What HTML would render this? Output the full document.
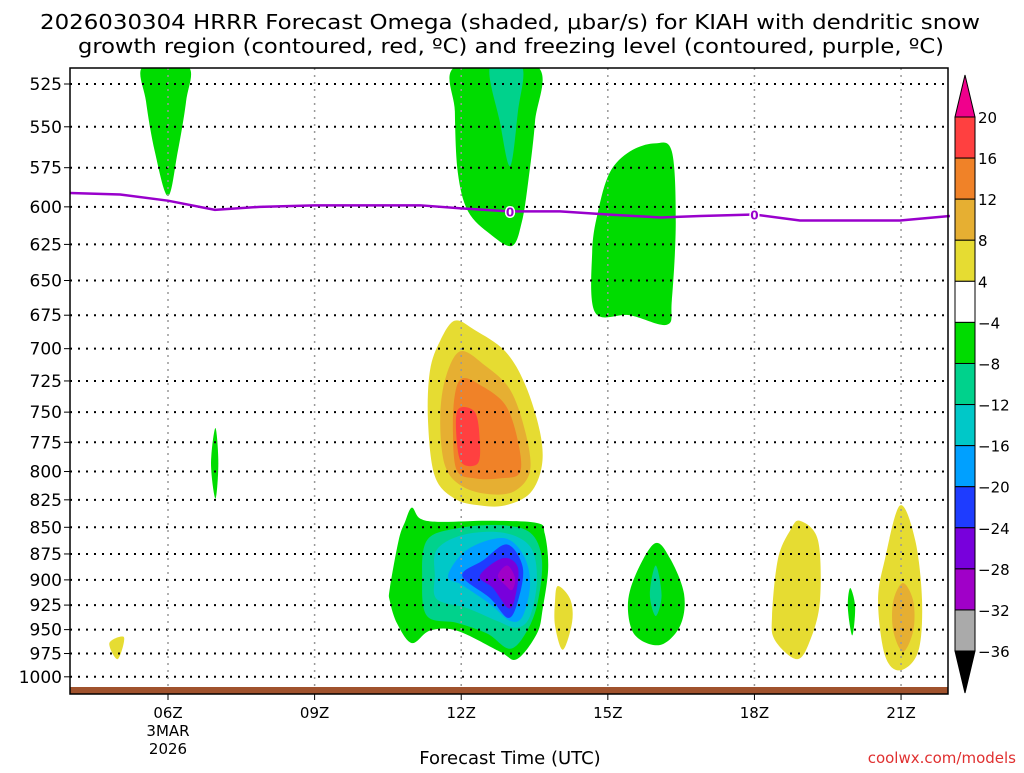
<!DOCTYPE html>
<html><head><meta charset="utf-8"><style>
body{margin:0;background:#fff;font-family:"Liberation Sans","DejaVu Sans",sans-serif}
svg text{font-family:"DejaVu Sans","Liberation Sans",sans-serif}
</style></head><body>
<svg id="c" width="1024" height="768" xmlns="http://www.w3.org/2000/svg">
<text x="40" y="29" font-size="20" textLength="940" lengthAdjust="spacingAndGlyphs">2026030304 HRRR Forecast Omega (shaded, μbar/s) for KIAH with dendritic snow</text>
<text x="78" y="53" font-size="20" textLength="866" lengthAdjust="spacingAndGlyphs">growth region (contoured, red, ºC) and freezing level (contoured, purple, ºC)</text>
<g id="fills"></g>
<g id="grid"></g>
<g id="lines"></g>
<rect x="70" y="687" width="878" height="7" fill="#a0522d"/>
<rect x="70" y="68" width="878" height="626" fill="none" stroke="#000" stroke-width="1.5"/>
<g id="axes"></g>
<g id="cbar"></g>
<text x="510" y="764" font-size="18" text-anchor="middle">Forecast Time (UTC)</text>
<text x="1016" y="763" font-size="15" fill="#e03030" text-anchor="end">coolwx.com/models</text>
</svg>
<script>
const pTicks=[525,550,575,600,625,650,675,700,725,750,775,800,825,850,875,900,925,950,975,1000];
const hTicks=[6,9,12,15,18,21];
const hLabels=["06Z","09Z","12Z","15Z","18Z","21Z"];
const cbLevels=["20","16","12","8","4","−4","−8","−12","−16","−20","−24","−28","−32","−36"];
const cbColors=["#ff4040","#f08228","#e6af32","#e6dc32","#ffffff","#00dc00","#00d28c","#00c8c8","#00a0ff","#1e3cff","#7800dc","#a000c8","#aaaaaa"];
const freezeH=[4,5.02,6,6.96,7.88,9,11.16,12,13,14.02,15,16.08,16.89,18,18.93,20.98,22];
const freezeP=[591,592,596,602,600,599,599,601,603,603,605,607,606,605,609,609,606];
const blobColors=["g","g","t","g","y","o1","o2","r","g","t1","c","lb","b","p","m","g","y","y","g","t1","y","g","y","o1"];
const blobs=[
[[5.49,515],[6.41,515],[6.37,535],[6.2,565],[6,593],[5.73,565],[5.55,535]],
[[11.89,515],[13.55,515],[13.51,547],[13.37,584],[13.24,610],[13.04,626],[12.59,618],[12.14,603],[11.93,578],[11.87,541]],
[[12.59,515],[13.24,515],[13.16,541],[13.0,574],[12.79,547]],
[[15.04,578],[15.45,565],[15.96,560],[16.31,565],[16.39,610],[16.31,664],[16.21,682],[15.45,675],[14.74,673],[14.68,630],[14.8,603]],
[[11.87,679],[12.28,686],[12.9,702],[13.31,728],[13.61,766],[13.65,795],[13.41,819],[12.9,830],[12.38,830],[11.87,824],[11.46,804],[11.32,757],[11.36,717],[11.57,694]],
[[11.98,702],[12.49,713],[13.0,732],[13.31,766],[13.41,799],[13.1,817],[12.59,820],[12.02,813],[11.67,795],[11.57,757],[11.67,724]],
[[12.02,723],[12.38,728],[12.9,744],[13.16,774],[13.2,801],[12.79,806],[12.28,806],[11.91,799],[11.83,766],[11.87,736]],
[[11.93,748],[12.28,750],[12.38,774],[12.34,793],[12.02,793],[11.91,774]],
[[10.54,908],[10.72,862],[10.85,845],[10.99,832],[11.16,842],[11.57,845],[12.59,844],[13.55,846],[13.71,856],[13.78,888],[13.67,928],[13.55,954],[13.14,981],[12.79,973],[11.91,951],[11.36,951],[10.99,964],[10.69,944],[10.54,921]],
[[11.3,862],[11.91,851],[12.79,848],[13.41,855],[13.65,880],[13.57,921],[13.35,951],[13.0,970],[12.53,954],[11.91,943],[11.3,936],[11.2,899]],
[[11.5,871],[12.04,857],[12.85,855],[13.41,868],[13.55,899],[13.41,936],[13.14,948],[12.73,941],[12.12,928],[11.5,919],[11.46,896]],
[[11.73,896],[12.12,871],[12.85,860],[13.26,875],[13.41,903],[13.26,936],[13.0,941],[12.59,924],[12.02,905]],
[[12.02,896],[12.45,881],[12.94,866],[13.26,888],[13.16,921],[12.96,938],[12.59,918]],
[[12.38,896],[12.85,879],[13.16,888],[13.1,918],[12.96,928],[12.65,908]],
[[12.75,896],[12.94,886],[13.1,898],[13.04,910],[12.9,905]],
[[6.97,763],[7.03,793],[6.97,824],[6.88,793]],
[[4.8,964],[5.1,958],[4.97,981]],
[[13.98,906],[14.23,919],[14.27,942],[14.08,971],[13.92,946],[13.92,921]],
[[15.96,865],[16.27,879],[16.56,914],[16.48,946],[16.07,966],[15.56,956],[15.41,926],[15.56,896]],
[[15.98,886],[16.1,915],[15.98,936],[15.86,914]],
[[18.93,844],[19.3,862],[19.34,921],[19.14,961],[18.87,981],[18.42,961],[18.36,936],[18.48,880],[18.73,853]],
[[19.96,908],[20.06,927],[20.0,956],[19.91,927]],
[[20.98,830],[21.29,862],[21.43,921],[21.35,973],[20.98,993],[20.67,977],[20.53,921],[20.67,880]],
[[21.04,903],[21.25,921],[21.25,951],[21.04,973],[20.84,951],[20.84,921]]
];
const palette={g:"#00dc00",t:"#00d28c",t1:"#00d28c",c:"#00c8c8",lb:"#00a0ff",b:"#1e3cff",p:"#7800dc",m:"#a000c8",y:"#e6dc32",o1:"#e6af32",o2:"#f08228",r:"#ff4040"};
const X=h=>168+(h-6)*48.87, Y=p=>84+920*Math.log(p/525);
const NS="http://www.w3.org/2000/svg";
function mk(t,a,par){const e=document.createElementNS(NS,t);for(const k in a)e.setAttribute(k,a[k]);par.appendChild(e);return e;}
function smooth(pts){const n=pts.length;let d=`M${pts[0][0]},${pts[0][1]}`;
for(let i=0;i<n;i++){const p0=pts[(i-1+n)%n],p1=pts[i],p2=pts[(i+1)%n],p3=pts[(i+2)%n];
const c1=[p1[0]+(p2[0]-p0[0])/6,p1[1]+(p2[1]-p0[1])/6],c2=[p2[0]-(p3[0]-p1[0])/6,p2[1]-(p3[1]-p1[1])/6];
d+=`C${c1[0]},${c1[1]} ${c2[0]},${c2[1]} ${p2[0]},${p2[1]}`;}return d+"Z";}
const svgEl=document.getElementById('c');
const clip=mk('clipPath',{id:'pc'},svgEl);mk('rect',{x:70,y:68,width:878,height:626},clip);
const F=document.getElementById('fills');F.setAttribute('clip-path','url(#pc)');
blobs.forEach((b,i)=>{const e=mk('path',{d:smooth(b.map(q=>[X(q[0]),Y(q[1])])),fill:palette[blobColors[i]]},F);

});
const G=document.getElementById('grid'),A=document.getElementById('axes');
pTicks.forEach(p=>{const l=mk('line',{x1:70,x2:948,y1:Y(p),y2:Y(p),stroke:'#000','stroke-width':2,'stroke-dasharray':'2 6'},G);


mk('line',{x1:64,x2:70,y1:Y(p),y2:Y(p),stroke:'#000'},A);
const t=mk('text',{x:62,y:Y(p)+6,'font-size':17,'text-anchor':'end'},A);t.textContent=p;

});
hTicks.forEach((h,i)=>{const l=mk('line',{x1:X(h),x2:X(h),y1:68,y2:694,stroke:'#999','stroke-width':1.5,'stroke-dasharray':'2 5'},G);


mk('line',{x1:X(h),x2:X(h),y1:694,y2:700,stroke:'#000'},A);
const t=mk('text',{x:X(h),y:718,'font-size':15,'text-anchor':'middle'},A);t.textContent=hLabels[i];

});
[["3MAR",736],["2026",754]].forEach(s=>{const t=mk('text',{x:X(6),y:s[1],'font-size':15,'text-anchor':'middle'},A);t.textContent=s[0];

});
const L=document.getElementById('lines');
const fl=mk('polyline',{points:freezeH.map((h,i)=>X(h)+','+Y(freezeP[i])).join(' '),fill:'none',stroke:'#9900cc','stroke-width':2.5},L);


[13,18].forEach(h=>{const i=freezeH.findIndex(v=>v>=h);const t=mk('text',{x:X(h),y:Y(freezeP[i])+5,'font-size':12,'font-weight':'bold','text-anchor':'middle',fill:'#9900cc',stroke:'#fff','stroke-width':3,'paint-order':'stroke'},L);t.textContent='0';

});
const C=document.getElementById('cbar');const cbx=955,cbw=20,cbTop=117,cbStep=41.08;
mk('polygon',{points:`${cbx},${cbTop} ${cbx+cbw},${cbTop} ${cbx+cbw/2},${cbTop-42}`,fill:'#f0008c',stroke:'#000'},C);
cbColors.forEach((col,i)=>{const r=mk('rect',{x:cbx,y:cbTop+i*cbStep,width:cbw,height:cbStep,fill:col,stroke:'#000'},C);

});
const cbBot=cbTop+cbColors.length*cbStep;
mk('polygon',{points:`${cbx},${cbBot} ${cbx+cbw},${cbBot} ${cbx+cbw/2},${cbBot+42}`,fill:'#000',stroke:'#000'},C);
cbLevels.forEach((s,i)=>{const t=mk('text',{x:cbx+cbw+3,y:cbTop+i*cbStep+6,'font-size':15},C);t.textContent=s;

});
</script>
</body></html>
